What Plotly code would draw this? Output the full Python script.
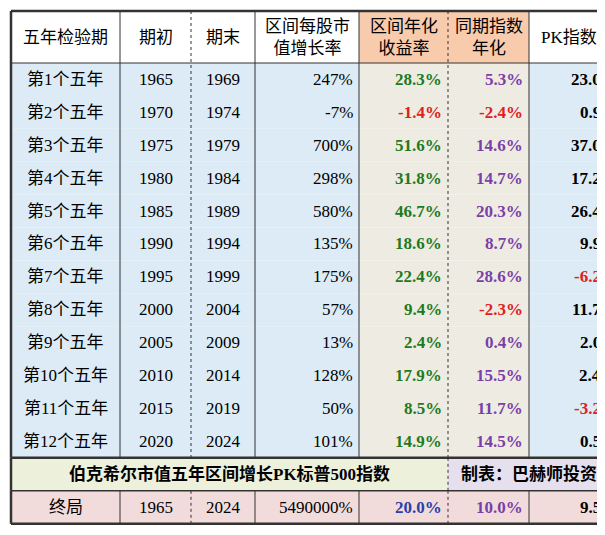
import plotly.graph_objects as go

periods = ["第1个五年","第2个五年","第3个五年","第4个五年","第5个五年","第6个五年",
           "第7个五年","第8个五年","第9个五年","第10个五年","第11个五年","第12个五年"]
start_years = [1965,1970,1975,1980,1985,1990,1995,2000,2005,2010,2015,2020]
end_years = [1969,1974,1979,1984,1989,1994,1999,2004,2009,2014,2019,2024]
growth = [247,-7,700,298,580,135,175,57,13,128,50,101]
annual = [28.3,-1.4,51.6,31.8,46.7,18.6,22.4,9.4,2.4,17.9,8.5,14.9]
index_annual = [5.3,-2.4,14.6,14.7,20.3,8.7,28.6,-2.3,0.4,15.5,11.7,14.5]
pk = [23.0,0.9,37.0,17.2,26.4,9.9,-6.2,11.7,2.0,2.4,-3.2,0.5]
headers = ["五年检验期","期初","期末","区间每股市<br>值增长率","区间年化<br>收益率","同期指数<br>年化","PK指数"]
title_text = "伯克希尔市值五年区间增长PK标普500指数"
credit_text = "制表：巴赫师投资"
final_row = ["终局","1965","2024","5490000%","20.0%","10.0%","9.5"]

colx = [3,112,183,247,351,440,521,601]
top, hdr_bot, row_h = 3, 55, 32.9
FONT = "Liberation Serif, Noto Sans CJK SC"
BLUE = "#DCEBF5"; ORANGE = "#F8CBAD"; BEIGE = "#EEECE2"
GREEN = "#1E7A1E"; RED = "#E0201E"; PURPLE = "#7A3FA8"

shapes, ann = [], []
def cell(x0, x1, y0, y1, fill):
    shapes.append(dict(type="rect", xref="x", yref="y", x0=x0, x1=x1, y0=y0, y1=y1,
                       fillcolor=fill, line=dict(width=0), layer="below"))
def text(x, y, s, color="black", bold=False, anchor="center", size=17):
    ann.append(dict(x=x, y=y, xref="x", yref="y", text=f"<b>{s}</b>" if bold else s,
                    showarrow=False, xanchor=anchor, yanchor="middle",
                    font=dict(family=FONT, size=size, color=color)))

for i, h in enumerate(headers):
    fill = ORANGE if i in (4, 5) else "white"
    cell(colx[i], colx[i+1], top, hdr_bot, fill)
    text((colx[i]+colx[i+1])/2, (top+hdr_bot)/2, h)

def fmt(v, d=1): return f"{v:.{d}f}"
for r in range(len(periods)):
    y0 = hdr_bot + r*row_h; y1 = y0 + row_h; yc = (y0+y1)/2
    for c in range(7):
        cell(colx[c], colx[c+1], y0, y1, BEIGE if c in (4, 5) else BLUE)
    text((colx[0]+colx[1])/2, yc, periods[r])
    text((colx[1]+colx[2])/2, yc, str(start_years[r]))
    text((colx[2]+colx[3])/2, yc, str(end_years[r]))
    text(colx[4]-4, yc, f"{growth[r]}%", anchor="right")
    text(colx[5]-4, yc, f"{fmt(annual[r])}%", GREEN if annual[r] >= 0 else RED, True, "right")
    text(colx[6]-4, yc, f"{fmt(index_annual[r])}%", PURPLE if index_annual[r] >= 0 else RED, True, "right")
    text(colx[7]-6, yc, fmt(pk[r]), "black" if pk[r] >= 0 else RED, True, "right")
data_bot = hdr_bot + len(periods)*row_h

t1 = data_bot + 33
cell(colx[0], colx[5], data_bot, t1, "#EDF1DC")
cell(colx[5], colx[7], data_bot, t1, "#E6E0EE")
text((colx[0]+colx[5])/2, (data_bot+t1)/2, title_text, bold=True, size=17)
text((colx[5]+colx[7])/2, (data_bot+t1)/2, credit_text, bold=True, size=17)

f1 = t1 + 33; yc = (t1+f1)/2
for c in range(7):
    cell(colx[c], colx[c+1], t1, f1, "#F2DCDB")
text((colx[0]+colx[1])/2, yc, final_row[0])
text((colx[1]+colx[2])/2, yc, final_row[1])
text((colx[2]+colx[3])/2, yc, final_row[2])
text(colx[4]-4, yc, final_row[3], anchor="right")
text(colx[5]-4, yc, final_row[4], "#2A3FA8", True, "right")
text(colx[6]-4, yc, final_row[5], PURPLE, True, "right")
text(colx[7]-6, yc, final_row[6], "black", True, "right")

def line(x0, y0, x1, y1, w=1, dash="solid", color="#333"):
    shapes.append(dict(type="line", xref="x", yref="y", x0=x0, y0=y0, x1=x1, y1=y1,
                       line=dict(color=color, width=w, dash=dash)))
for i, x in enumerate(colx):
    dash = "dot" if i in (2, 5) else "solid"
    w = 2.5 if i in (0, 7) else 1
    line(x, top, x, data_bot, w, dash)
    line(x, t1, x, f1, w, dash)
line(colx[0], data_bot, colx[0], t1, 2.5); line(colx[7], data_bot, colx[7], t1, 2.5)
line(colx[5], data_bot, colx[5], t1, 1, "dot")
line(colx[0], top, colx[7], top, 2.5)
line(colx[0], hdr_bot, colx[7], hdr_bot, 1)
line(colx[0], data_bot, colx[7], data_bot, 2.5)
line(colx[0], t1, colx[7], t1, 1.5)
line(colx[0], f1, colx[7], f1, 2.5)

fig = go.Figure()
fig.update_layout(width=597, height=527, margin=dict(l=0, r=0, t=0, b=0),
                  paper_bgcolor="white", plot_bgcolor="white",
                  xaxis=dict(range=[0, 597], visible=False, fixedrange=True),
                  yaxis=dict(range=[527, 0], visible=False, fixedrange=True),
                  shapes=shapes, annotations=ann, showlegend=False)
fig.write_html("out.html")
